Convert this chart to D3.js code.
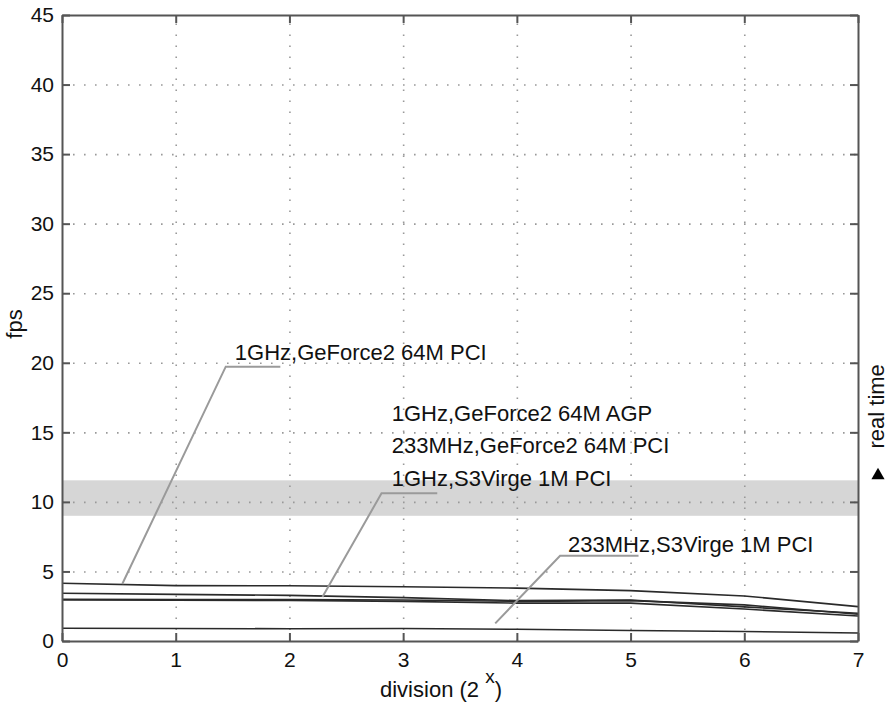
<!DOCTYPE html>
<html>
<head>
<meta charset="utf-8">
<script src="https://cdn.jsdelivr.net/npm/d3@7"></script>
<style>
  body { margin: 0; background: #fff; }
  text { font-family: "Liberation Sans", Arial, Helvetica, sans-serif; fill: #111; }
</style>
</head>
<body>
<script>
// data
const divisions = [0, 1, 2, 3, 4, 5, 6, 7];
const gf2PCI1GHz   = [4.15, 3.98, 3.97, 3.90, 3.80, 3.62, 3.24, 2.47];
const gf2AGP1GHz   = [3.43, 3.35, 3.28, 3.12, 2.90, 2.95, 2.45, 2.00];
const gf2PCI233    = [3.00, 2.98, 2.98, 2.95, 2.85, 2.90, 2.60, 1.92];
const s3PCI1GHz    = [2.95, 2.93, 2.92, 2.85, 2.72, 2.72, 2.30, 1.80];
const s3PCI233     = [0.92, 0.90, 0.88, 0.90, 0.84, 0.76, 0.68, 0.58];
const allSeries = [gf2PCI1GHz, gf2AGP1GHz, gf2PCI233, s3PCI1GHz, s3PCI233];

const yTicks = [0, 5, 10, 15, 20, 25, 30, 35, 40, 45];
const xTicks = [0, 1, 2, 3, 4, 5, 6, 7];
const realTime = [9.0, 11.55];

// callouts: leader line points (data units) and label lines
const callouts = [
  {pts: [[0.53, 4.1], [1.44, 19.72], [1.92, 19.72]], at: [1.52, 20.2],
   labels: ["1GHz,GeForce2 64M PCI"]},
  {pts: [[2.29, 3.16], [2.81, 10.62], [3.30, 10.62]], at: [2.90, 15.82],
   labels: ["1GHz,GeForce2 64M AGP", "233MHz,GeForce2 64M PCI", "1GHz,S3Virge 1M PCI"]},
  {pts: [[3.81, 1.27], [4.38, 6.13], [5.07, 6.13]], at: [4.45, 6.42],
   labels: ["233MHz,S3Virge 1M PCI"]}
];

// Margin convention
const margin = {top: 15, right: 33, bottom: 63, left: 62};
const width = 891 - margin.left - margin.right,
      height = 704 - margin.top - margin.bottom;

const svg = d3.select("body").append("svg")
              .attr("width", 891)
              .attr("height", 704)
              .append("g")
              .attr("transform", `translate(${margin.left},${margin.top})`);

const x = d3.scaleLinear().domain([0, 7]).range([0, width]);
const y = d3.scaleLinear().domain([0, 45]).range([height, 0]);

// real time band
svg.append("rect")
   .attr("x", 0).attr("width", width)
   .attr("y", y(realTime[1]))
   .attr("height", y(realTime[0]) - y(realTime[1]))
   .attr("fill", "#d6d6d6");

// dotted grid
const gridX = svg.append("g")
  .attr("transform", `translate(0,${height})`)
  .call(d3.axisBottom(x).tickValues(xTicks.slice(1, -1)).tickSize(-height).tickFormat(""));
const gridY = svg.append("g")
  .call(d3.axisLeft(y).tickValues(yTicks.slice(1, -1)).tickSize(-width).tickFormat(""));
[gridX, gridY].forEach(g => {
  g.select(".domain").remove();
  g.selectAll(".tick line")
   .attr("stroke", "#999")
   .attr("stroke-width", 1.6)
   .attr("stroke-dasharray", "1.6,9.4");
});

// data lines
const line = d3.line()
  .x((d, i) => x(divisions[i]))
  .y(d => y(d));
svg.selectAll(".series")
   .data(allSeries)
   .join("path")
   .attr("class", "series")
   .attr("d", line)
   .attr("fill", "none")
   .attr("stroke", "#2a2a2a")
   .attr("stroke-width", 1.6);

// axes, ticks pointing inward
const axisColor = "#555";
const xAxis = svg.append("g")
  .attr("transform", `translate(0,${height})`)
  .call(d3.axisBottom(x).tickValues(xTicks).tickFormat(d3.format("d"))
          .tickSizeInner(-8).tickSizeOuter(0).tickPadding(11));
const yAxis = svg.append("g")
  .call(d3.axisLeft(y).tickValues(yTicks).tickSizeInner(-8).tickSizeOuter(0).tickPadding(8));
const topAxis = svg.append("g")
  .call(d3.axisTop(x).tickValues(xTicks).tickSizeInner(-8).tickSizeOuter(0).tickFormat(""));
const rightAxis = svg.append("g")
  .attr("transform", `translate(${width},0)`)
  .call(d3.axisRight(y).tickValues(yTicks).tickSizeInner(-8).tickSizeOuter(0).tickFormat(""));
[xAxis, yAxis, topAxis, rightAxis].forEach(g => {
  g.select(".domain").attr("stroke", axisColor).attr("stroke-width", 2);
  g.selectAll(".tick line").attr("stroke", axisColor).attr("stroke-width", 2);
  g.selectAll(".tick text")
   .attr("font-size", "21px")
   .attr("font-family", "'Liberation Sans', Arial, sans-serif")
   .attr("fill", "#111");
});

// callouts
const leader = d3.line().x(d => x(d[0])).y(d => y(d[1]));
callouts.forEach(c => {
  svg.append("path")
     .attr("d", leader(c.pts))
     .attr("fill", "none")
     .attr("stroke", "#9a9a9a")
     .attr("stroke-width", 2);
  const base = y(c.at[1]);
  c.labels.forEach((t, i) => {
    svg.append("text")
       .attr("x", x(c.at[0]))
       .attr("y", base + i * 32.5)
       .attr("font-size", "22px")
       .text(t);
  });
});

// axis titles
svg.append("text")
   .attr("transform", `translate(${-40},${height / 2 - 4}) rotate(-90)`)
   .attr("text-anchor", "middle")
   .attr("font-size", "22px")
   .text("fps");

const xt = svg.append("text")
   .attr("x", 318)
   .attr("y", height + 56)
   .attr("font-size", "22px")
   .text("division (2 ");
xt.append("tspan").attr("dy", -14).attr("font-size", "19px").text("x");
xt.append("tspan").attr("dy", 14).text(")");

// real time marker on the right
svg.append("text")
   .attr("transform", `translate(${width + 26},${y(realTime[1]) - 74}) rotate(-90)`)
   .attr("text-anchor", "middle")
   .attr("font-size", "22px")
   .text("real time");
svg.append("path")
   .attr("transform", `translate(${width + 20},${y(realTime[1]) - 5})`)
   .attr("d", d3.symbol(d3.symbolTriangle, 75)())
   .attr("fill", "#000");
</script>
</body>
</html>
